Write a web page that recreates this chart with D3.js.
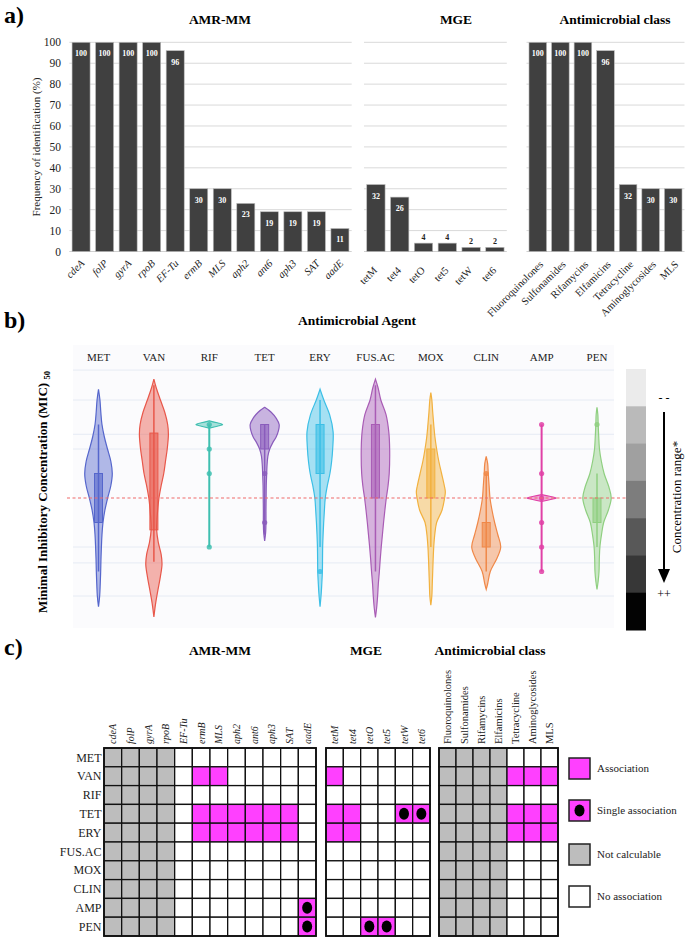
<!DOCTYPE html>
<html><head><meta charset="utf-8">
<script src="https://cdn.jsdelivr.net/npm/d3@7"></script>
<style>
body{margin:0;background:#fff;}
svg{display:block;font-family:"Liberation Serif","Times New Roman",serif;}
</style></head><body>
<svg id="chart" width="685" height="937"></svg>
<script>
// ---------------- DATA ----------------
// Panel a
const amrGenes = ["cdeA","folP","gyrA","rpoB","EF-Tu","ermB","MLS","aph2","ant6","aph3","SAT","aadE"];
const amrFreq  = [100,100,100,100,96,30,30,23,19,19,19,11];
const mgeGenes = ["tetM","tet4","tetO","tet5","tetW","tet6"];
const mgeFreq  = [32,26,4,4,2,2];
const classNames = ["Fluoroquinolones","Sulfonamides","Rifamycins","Elfamicins","Tetracycline","Aminoglycosides","MLS"];
const classFreq  = [100,100,100,96,32,30,30];
const freqTicks  = [0,10,20,30,40,50,60,70,80,90,100];

// Panel b (MIC levels in log2 dilution steps relative to breakpoint; density relative 0..1)
const agents = ["MET","VAN","RIF","TET","ERY","FUS.AC","MOX","CLIN","AMP","PEN"];
const agentColors = ["#5566cc","#e8574a","#3fbfb0","#8a5cbc","#3cbfe6","#a95cb5","#f2b13f","#f08848","#e040a6","#8fcf80"];
const metDensity = [[-4.44,0],[-4,0.1],[-3.5,0.16],[-3,0.24],[-2.5,0.4],[-2,0.62],[-1.5,0.85],[-1,0.95],[-0.5,0.85],[0,0.63],[0.5,0.44],[1,0.31],[1.5,0.24],[2,0.2],[2.5,0.17],[3,0.15],[3.5,0.12],[4,0.08],[4.44,0]];
const vanDensity = [[-4.85,0],[-4.5,0.16],[-4,0.45],[-3.5,0.75],[-3,0.95],[-2.6,1.0],[-2,0.92],[-1.5,0.8],[-1,0.68],[-0.5,0.5],[0,0.35],[0.5,0.26],[1,0.2],[1.3,0.19],[1.8,0.3],[2.3,0.5],[2.7,0.56],[3.2,0.45],[3.75,0.28],[4.3,0.12],[4.85,0]];
const rifDensity = [[-3.15,0],[-3.07,0.55],[-3,0.92],[-2.93,0.55],[-2.85,0]];
const tetDensity = [[-3.7,0],[-3.5,0.45],[-3.25,0.8],[-3,1.0],[-2.75,0.95],[-2.5,0.8],[-2.25,0.55],[-2,0.35],[-1.7,0.22],[-1.3,0.16],[-1,0.14],[-0.5,0.11],[0,0.1],[0.5,0.09],[1,0.09],[1.4,0.07],[1.75,0]];
const eryDensity = [[-4.44,0],[-4,0.26],[-3.4,0.66],[-2.7,0.9],[-2,0.87],[-1.5,0.8],[-1,0.68],[-0.5,0.5],[0,0.36],[0.5,0.3],[1,0.25],[1.5,0.21],[2,0.18],[2.5,0.17],[3,0.16],[3.5,0.12],[3.9,0.08],[4.44,0]];
const fusDensity = [[-4.85,0],[-4.5,0.18],[-4,0.37],[-3.4,0.73],[-2.7,0.92],[-2,0.98],[-1,0.95],[-0.5,0.87],[0,0.75],[0.5,0.65],[1,0.56],[1.5,0.48],[2,0.4],[2.5,0.33],[3,0.27],[3.5,0.2],[4,0.15],[4.5,0.08],[4.87,0]];
const moxDensity = [[-4.3,0],[-4,0.07],[-3.5,0.13],[-3,0.2],[-2.5,0.28],[-2,0.4],[-1.5,0.55],[-1,0.74],[-0.5,0.93],[-0.25,1.0],[0,0.95],[0.5,0.77],[1,0.4],[1.5,0.27],[2,0.2],[2.5,0.16],[3,0.13],[3.5,0.1],[4,0.07],[4.37,0]];
const clinDensity = [[-1.7,0],[-1.4,0.1],[-1,0.14],[-0.5,0.2],[0,0.26],[0.5,0.4],[1,0.58],[1.5,0.8],[2,1.0],[2.45,0.75],[3,0.28],[3.5,0.1],[3.73,0]];
const ampDensity = [[-0.14,0],[-0.07,0.55],[0,1.0],[0.07,0.55],[0.14,0]];
const penDensity = [[-3.7,0],[-3.4,0.06],[-3,0.08],[-2.5,0.12],[-2,0.17],[-1.5,0.3],[-1,0.49],[-0.45,0.82],[0,0.98],[0.5,0.78],[1,0.46],[1.5,0.31],[2,0.2],[2.5,0.16],[3,0.14],[3.4,0.08],[3.73,0]];
const agentDensities = [metDensity,vanDensity,rifDensity,tetDensity,eryDensity,fusDensity,moxDensity,clinDensity,ampDensity,penDensity];
// box: [q3 level, q1 level] ; whiskers: [upper, lower]
const boxQ3 = [-1,-2.65,null,-3,-3,-3,-2,1,null,0];
const boxQ1 = [1,1.3,null,-2,-1,0,0,2,null,1];
const whiskerHi = [-3,-4.6,-3,-3,-4,-4.6,-3,-1,-3,-1];
const whiskerLo = [3,2.6,2,1.5,2,3,2,3,3,2];
const pointLevels = [[],[],[-3,-2,-1,2],[-1,1],[3],[],[],[-1],[-3,-1,0,1,2,3],[-3]];
const breakpointLevel = 0;
const gridLevels = [-5.22,-4,-2.6,-2,2,2.65,4];
const grayLevels = ["#ebebeb","#bababa","#a0a0a0","#7d7d7d","#585858","#373737","#030303"];

// Panel c association codes: 0 none, 1 association, 2 single association, 3 not calculable
const assocRows = ["MET","VAN","RIF","TET","ERY","FUS.AC","MOX","CLIN","AMP","PEN"];
const assocAmr = [
 [3,3,3,3,0,0,0,0,0,0,0,0],
 [3,3,3,3,0,1,1,0,0,0,0,0],
 [3,3,3,3,0,0,0,0,0,0,0,0],
 [3,3,3,3,0,1,1,1,1,1,1,0],
 [3,3,3,3,0,1,1,1,1,1,1,0],
 [3,3,3,3,0,0,0,0,0,0,0,0],
 [3,3,3,3,0,0,0,0,0,0,0,0],
 [3,3,3,3,0,0,0,0,0,0,0,0],
 [3,3,3,3,0,0,0,0,0,0,0,2],
 [3,3,3,3,0,0,0,0,0,0,0,2]];
const assocMge = [
 [0,0,0,0,0,0],
 [1,0,0,0,0,0],
 [0,0,0,0,0,0],
 [1,1,0,0,2,2],
 [1,1,0,0,0,0],
 [0,0,0,0,0,0],
 [0,0,0,0,0,0],
 [0,0,0,0,0,0],
 [0,0,0,0,0,0],
 [0,0,2,2,0,0]];
const assocClass = [
 [3,3,3,3,0,0,0],
 [3,3,3,3,1,1,1],
 [3,3,3,3,0,0,0],
 [3,3,3,3,1,1,1],
 [3,3,3,3,1,1,1],
 [3,3,3,3,0,0,0],
 [3,3,3,3,0,0,0],
 [3,3,3,3,0,0,0],
 [3,3,3,3,0,0,0],
 [3,3,3,3,0,0,0]];
const legendLabels = ["Association","Single association","Not calculable","No association"];
const legendCodes = [1,2,3,0];

// ---------------- DRAW ----------------
const svg = d3.select("#chart");
const SERIF = '"Liberation Serif","Times New Roman",serif';

function panelLabel(t,x,y){ svg.append("text").attr("x",x).attr("y",y).attr("font-size",24).attr("font-weight","bold").text(t); }
panelLabel("a)",4,23); panelLabel("b)",4,328); panelLabel("c)",4,655);

// ----- Panel a -----
const yA = d3.scaleLinear().domain([0,100]).range([251.5,42.3]);
const barCol = "#404040";
const aY = svg.append("g").attr("class","y-axis")
  .attr("transform","translate(66,0)")
  .call(d3.axisLeft(yA).tickValues(freqTicks).tickSize(0).tickPadding(5));
aY.select(".domain").remove();
aY.selectAll("text").attr("font-family",SERIF).attr("font-size",11.5).attr("fill","#222");
svg.append("text").attr("transform","translate(40,147) rotate(-90)").attr("text-anchor","middle")
  .attr("font-size",11).attr("fill","#222").text("Frequency of identification (%)");

function barGroup(names, vals, x0, x1, pad, title, titleX, italic, labelDx, labelY){
  const xs = d3.scaleBand().domain(names).range([x0,x1]).paddingInner(pad).paddingOuter(pad/2);
  const g = svg.append("g");
  g.selectAll("line.grid").data(freqTicks.slice(1)).join("line")
    .attr("x1",x0).attr("x2",x1).attr("y1",d=>yA(d)).attr("y2",d=>yA(d))
    .attr("stroke","#d9d9d9").attr("stroke-width",1);
  g.append("line").attr("x1",x0).attr("x2",x1).attr("y1",yA(0)).attr("y2",yA(0)).attr("stroke","#d0d0d0").attr("stroke-width",1.2);
  g.selectAll("rect").data(vals).join("rect")
    .attr("x",(d,i)=>xs(names[i])).attr("width",xs.bandwidth())
    .attr("y",d=>yA(d)).attr("height",d=>yA(0)-yA(d))
    .attr("fill",barCol).attr("stroke","#bbb").attr("stroke-width",0.6);
  g.selectAll("text.val").data(vals).join("text")
    .attr("x",(d,i)=>xs(names[i])+xs.bandwidth()/2)
    .attr("y",d=> d>=10 ? yA(d)+14 : yA(d)-3)
    .attr("text-anchor","middle").attr("font-size",8).attr("font-weight","bold")
    .attr("fill",d=> d>=10 ? "#fff" : "#222").text(d=>d);
  g.selectAll("text.cat").data(names).join("text")
    .attr("transform",d=>`translate(${xs(d)+xs.bandwidth()/2+labelDx},${labelY}) rotate(-45)`)
    .attr("text-anchor","end").attr("font-size",10.5).attr("font-style",italic?"italic":"normal")
    .attr("fill","#222").text(d=>d);
  svg.append("text").attr("x",titleX).attr("y",24).attr("text-anchor","middle")
    .attr("font-size",13.5).attr("font-weight","bold").text(title);
}
barGroup(amrGenes, amrFreq, 69.3, 351.7, 0.234, "AMR-MM", 220, true, 4, 264);
barGroup(mgeGenes, mgeFreq, 364, 506.8, 0.23, "MGE", 456, false, 2, 271);
barGroup(classNames, classFreq, 526.5, 684.5, 0.22, "Antimicrobial class", 615, false, 6, 265);

// ----- Panel b -----
const yB = d3.scaleLinear().domain([-5,5]).range([375.5,620.5]);
const xB = d3.scalePoint().domain(agents).range([98.5,597]);
const wB = d3.scaleLinear().domain([0,1]).range([0,14.5]);
const gb = svg.append("g");
gb.append("rect").attr("x",73).attr("y",345).attr("width",541).attr("height",283).attr("fill","#fbfbfd");
gb.selectAll("line.g").data(gridLevels).join("line")
  .attr("x1",73).attr("x2",614).attr("y1",d=>yB(d)).attr("y2",d=>yB(d))
  .attr("stroke","#e6ebf4").attr("stroke-width",1);
svg.append("text").attr("x",357).attr("y",325).attr("text-anchor","middle")
  .attr("font-size",13.5).attr("font-weight","bold").text("Antimicrobial Agent");
gb.selectAll("text.ag").data(agents).join("text")
  .attr("x",d=>xB(d)).attr("y",361).attr("text-anchor","middle").attr("font-size",11).attr("fill","#222").text(d=>d);
// y title
const yt = svg.append("text").attr("transform","translate(47,492) rotate(-90)").attr("text-anchor","middle")
  .attr("font-size",13).attr("font-weight","bold");
yt.append("tspan").text("Minimal Inhibitory Concentration (MIC) ");
yt.append("tspan").attr("font-size",8.5).attr("dy",3).text("50");

const area = d3.area().curve(d3.curveCatmullRom.alpha(0.5));
agents.forEach((a,i)=>{
  const cx = xB(a), col = agentColors[i];
  const g = gb.append("g");
  area.y(d=>yB(d[0])).x0(d=>cx-wB(d[1])).x1(d=>cx+wB(d[1]));
  g.append("path").attr("d",area(agentDensities[i])).attr("fill",col).attr("fill-opacity",0.45)
    .attr("stroke",col).attr("stroke-width",1.2);
  g.append("line").attr("x1",cx).attr("x2",cx).attr("y1",yB(whiskerHi[i])).attr("y2",yB(whiskerLo[i]))
    .attr("stroke",col).attr("stroke-width",agentDensities[i].length<=5?2:1.5);
  if(boxQ3[i]!==null){
    g.append("rect").attr("x",cx-4).attr("width",8).attr("y",yB(boxQ3[i])).attr("height",yB(boxQ1[i])-yB(boxQ3[i]))
      .attr("fill",col).attr("fill-opacity",0.6).attr("stroke",col).attr("stroke-width",1);
  }
  g.selectAll("circle").data(pointLevels[i]).join("circle")
    .attr("cx",cx).attr("cy",d=>yB(d)).attr("r",2.6).attr("fill",col).attr("fill-opacity",0.85);
});
svg.append("line").attr("x1",67).attr("x2",643).attr("y1",yB(breakpointLevel)).attr("y2",yB(breakpointLevel))
  .attr("stroke","#f06a6a").attr("stroke-width",1.2).attr("stroke-dasharray","3,2.5");
// gray scale bar
const gs = d3.scaleBand().domain(d3.range(grayLevels.length)).range([369,630]);
svg.selectAll("rect.gs").data(grayLevels).join("rect")
  .attr("x",626).attr("width",20).attr("y",(d,i)=>gs(i)).attr("height",gs.bandwidth()+0.5).attr("fill",d=>d);
svg.append("line").attr("x1",664).attr("x2",664).attr("y1",412).attr("y2",570).attr("stroke","#000").attr("stroke-width",2);
svg.append("path").attr("d","M658,569 L670,569 L664,583 Z").attr("fill","#000");
svg.append("text").attr("x",664).attr("y",402).attr("text-anchor","middle").attr("font-size",12).text("- -");
svg.append("text").attr("x",664).attr("y",598).attr("text-anchor","middle").attr("font-size",12).text("++");
svg.append("text").attr("transform","translate(681,497) rotate(-90)").attr("text-anchor","middle")
  .attr("font-size",13).text("Concentration range*");

// ----- Panel c -----
const yC = d3.scaleBand().domain(assocRows).range([748,936]);
const fillFor = c => c===1||c===2 ? "#ff40ff" : c===3 ? "#bdbdbd" : "#fff";
function grid(cols, mat, x0, x1, italic, title, titleX){
  const xc = d3.scaleBand().domain(cols).range([x0,x1]);
  const g = svg.append("g");
  mat.forEach((row,ri)=>{
    row.forEach((c,ci)=>{
      const x = xc(cols[ci]), y = yC(assocRows[ri]);
      g.append("rect").attr("x",x).attr("y",y).attr("width",xc.bandwidth()).attr("height",yC.bandwidth())
        .attr("fill",fillFor(c)).attr("stroke","#111").attr("stroke-width",1.3);
      if(c===2) g.append("ellipse").attr("cx",x+xc.bandwidth()/2).attr("cy",y+yC.bandwidth()/2)
        .attr("rx",5).attr("ry",6).attr("fill","#000");
    });
  });
  g.append("rect").attr("x",x0).attr("y",748).attr("width",x1-x0).attr("height",188)
    .attr("fill","none").attr("stroke","#111").attr("stroke-width",1.8);
  g.selectAll("text.col").data(cols).join("text")
    .attr("transform",d=>`translate(${xc(d)+xc.bandwidth()/2+3.5},744) rotate(-90)`)
    .attr("font-size",italic?10:10.5).attr("font-style",italic?"italic":"normal").attr("fill","#222").text(d=>d);
  svg.append("text").attr("x",titleX).attr("y",655).attr("text-anchor","middle")
    .attr("font-size",13.5).attr("font-weight","bold").text(title);
}
grid(amrGenes, assocAmr, 104, 316, true, "AMR-MM", 220);
grid(mgeGenes, assocMge, 326, 430, true, "MGE", 366);
grid(classNames, assocClass, 439, 558, false, "Antimicrobial class", 490);
svg.selectAll("text.row").data(assocRows).join("text")
  .attr("x",101.5).attr("y",d=>yC(d)+yC.bandwidth()/2+4.2).attr("text-anchor","end")
  .attr("font-size",12).attr("fill","#222").text(d=>d);
// legend
const legY = [758,800,844,886];
legendCodes.forEach((c,i)=>{
  svg.append("rect").attr("x",569).attr("y",legY[i]).attr("width",21).attr("height",21)
    .attr("fill",fillFor(c)).attr("stroke","#222").attr("stroke-width",1.5);
  if(c===2) svg.append("ellipse").attr("cx",579.5).attr("cy",legY[i]+10.5).attr("rx",5).attr("ry",6).attr("fill","#000");
  svg.append("text").attr("x",597).attr("y",legY[i]+14).attr("font-size",11).attr("fill","#222").text(legendLabels[i]);
});
</script></body></html>
